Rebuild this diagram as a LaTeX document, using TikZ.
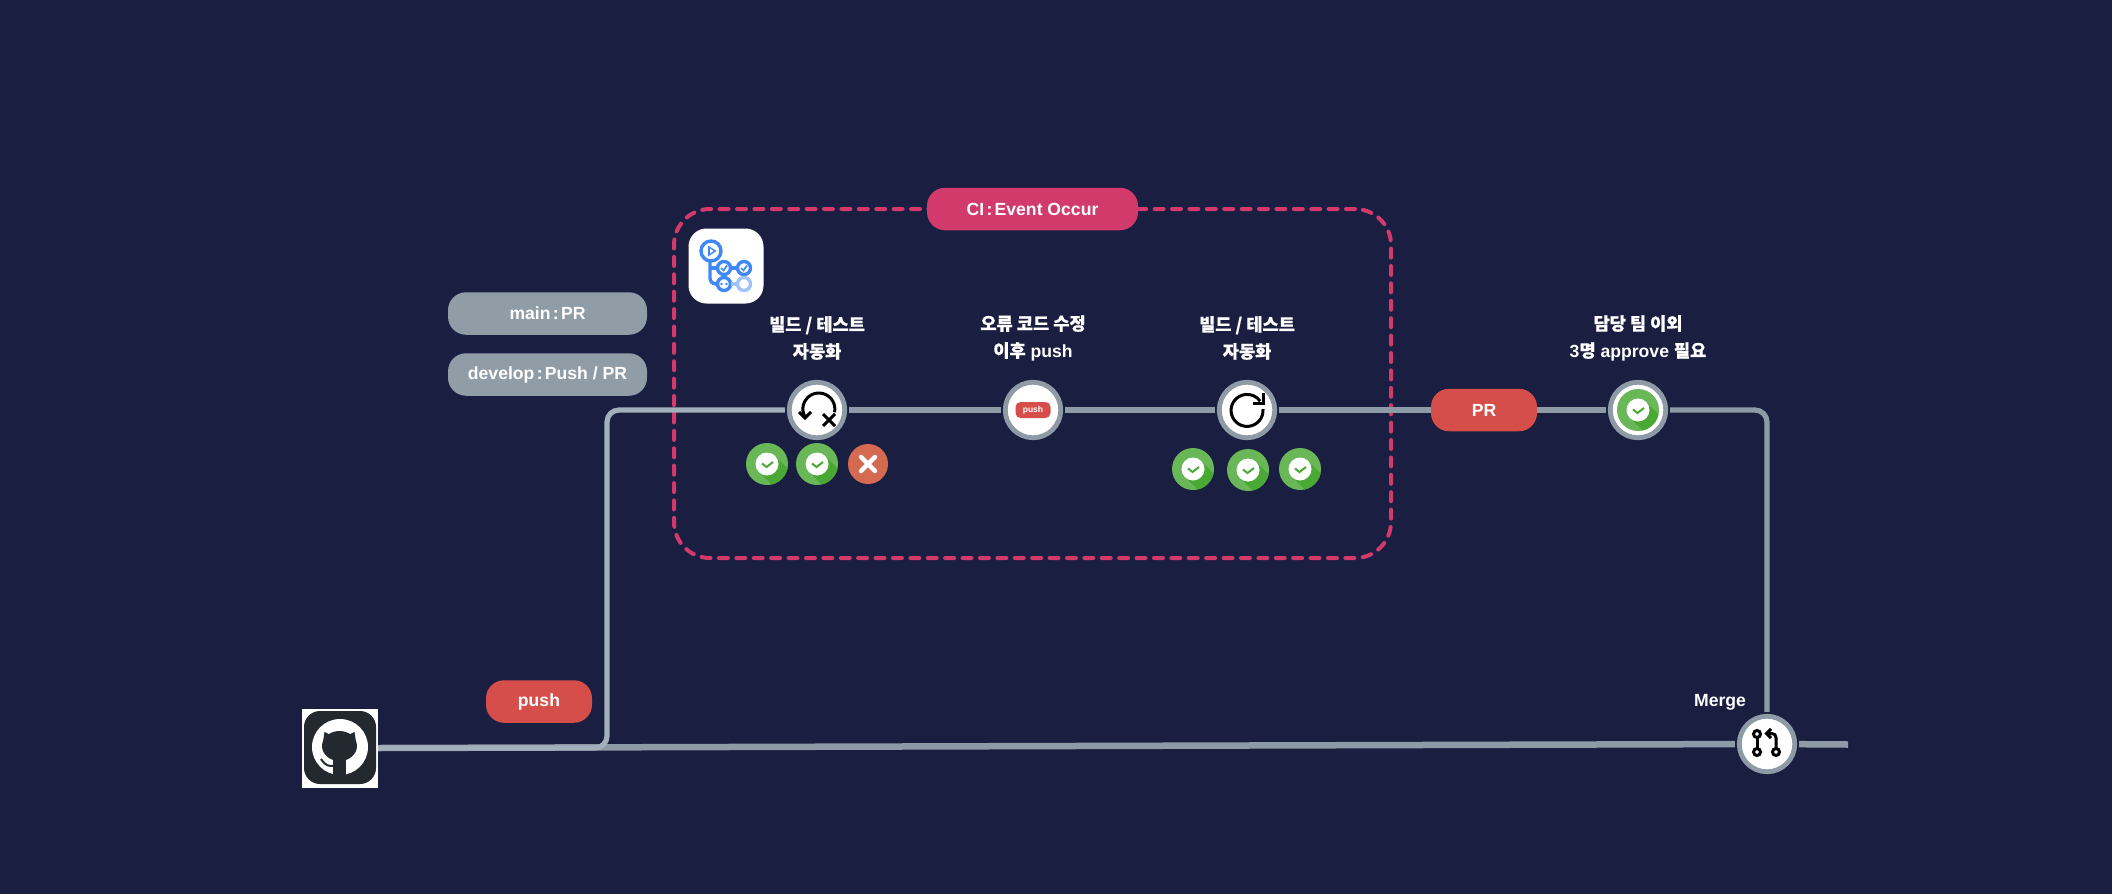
\documentclass[tikz,border=0pt]{standalone}
\usepackage{fontspec}
\setmainfont{Liberation Sans}[BoldFont={Liberation Sans Bold}]
\newfontfamily\krfont{Noto Sans CJK KR}[FakeBold=0.5]
\newcommand{\kr}[1]{{\krfont #1}}
\newcommand{\tcolon}{\hspace{0.13em}:\hspace{0.13em}}
\usetikzlibrary{positioning}
\definecolor{bgnavy}{HTML}{1A1E40}
\definecolor{cipink}{HTML}{D23A6C}
\definecolor{pillred}{HTML}{D54E4A}
\definecolor{pillgrey}{HTML}{909CA6}
\definecolor{ringgrey}{HTML}{8E9AA5}
\definecolor{branchgrey}{HTML}{A2B0BC}
\definecolor{okgreen}{HTML}{6AB757}
\definecolor{okdark}{HTML}{4AA835}
\definecolor{failred}{HTML}{D56A52}
\definecolor{flowblue}{HTML}{3F88F6}
\definecolor{flowlight}{HTML}{A0C4FA}
\definecolor{octodark}{HTML}{24292F}
\tikzset{
	pill/.style={rectangle,rounded corners=18pt,minimum width=106pt,minimum height=42.5pt,inner sep=0pt,outer sep=0pt,text=white,font=\fontsize{17.6}{22}\selectfont\bfseries},
	steplabel/.style={align=center,text=white,inner sep=0pt,font=\fontsize{17.6}{27}\selectfont\bfseries},
	stepnode/.style={circle,draw=ringgrey,line width=4.8pt,fill=white,minimum size=55.5pt,inner sep=0pt,outer sep=4.4pt},
	flowline/.style={draw=ringgrey,line width=5.2pt},
	okbadge/.style={circle,fill=okgreen,minimum size=42pt,inner sep=0pt,outer sep=0pt,path picture={
		\begin{scope}[shift={(path picture bounding box.center)}]
			\fill[okdark] (8,8) -- (38,-22) -- (22,-38) -- (-8,-8) -- cycle;
			\fill[white] (0,0) circle (11.5);
			\draw[okdark,line width=2pt] (-5,0.5) -- (-0.5,-3) -- (6,2);
		\end{scope}}},
	failbadge/.style={circle,fill=failred,minimum size=40pt,inner sep=0pt,outer sep=0pt,path picture={
		\begin{scope}[shift={(path picture bounding box.center)}]
			\draw[white,line width=4.5pt,line cap=round] (-7,7) -- (7,-7) (-7,-7) -- (7,7);
		\end{scope}}},
	iconline/.style={black,line width=3pt}
}
\begin{document}
\begin{tikzpicture}[x=1pt,y=1pt]
	\fill[bgnavy] (0,0) rectangle (2112,-894);
	\useasboundingbox (0,0) rectangle (2112,-894);

	\node (cibox) at (1032.5,-383.5) [rectangle,draw=cipink,line width=4pt,line cap=round,dash pattern=on 9pt off 8.4pt,rounded corners=36pt,minimum width=717pt,minimum height=349pt,outer sep=0pt] {};
	\node (cilabel) at (1032.5,-209) [pill,fill=cipink,minimum width=211pt] {CI\tcolon Event Occur};

	\node (mainlabel) at (547.5,-313.5) [pill,fill=pillgrey,minimum width=199pt] {\raisebox{-1pt}{main\tcolon PR}};
	\node (devlabel) at (547.5,-374.5) [pill,fill=pillgrey,minimum width=199pt] {\raisebox{-1pt}{develop\tcolon Push / PR}};
	\node (pushlabel) at (539,-701.5) [pill,fill=pillred] {push};
	\node (prlabel) at (1484,-410) [pill,fill=pillred] {PR};

	\node (failtext) at (817,-338) [steplabel] {\kr{빌드 / 테스트}\\\kr{자동화}};
	\node (fixtext) at (1033,-338) [steplabel] {\kr{오류 코드 수정}\\\kr{이후} push};
	\node (retext) at (1247,-338) [steplabel] {\kr{빌드 / 테스트}\\\kr{자동화}};
	\node (approvetext) at (1638,-338) [steplabel] {\kr{담당 팀 이외}\\3\kr{명} approve \kr{필요}};
	\node (mergetext) at (1720,-702) [steplabel] {Merge};

	% step nodes
	\node (fail) at (817,-410) [stepnode] {};
	\node (fix) at (1033,-410) [stepnode] {};
	\node (redo) at (1247,-410) [stepnode] {};
	\node (approve) at (1638,-410) [stepnode] {};
	\node (merge) at (1767,-744) [stepnode] {};
	\node (github) at (340,-748) [rectangle,fill=white,minimum width=76pt,minimum height=79pt,outer sep=0pt] {};

	\coordinate (branchturn) at (607,-748);
	\coordinate (branchtop) at (607,-410);
	\coordinate (mergeturn) at (1767,-410);
	\coordinate (trunkend) at (1848,-744.5);

	% connectors
	\draw[flowline,line width=6.5pt] (github.east) -- (merge);
	\draw[flowline,line width=6.5pt] (merge) -- (trunkend);
	\draw[flowline,draw=branchgrey,rounded corners=12pt] (github.east) -- (branchturn) -- (branchtop) -- (fail);
	\draw[flowline] (fail) -- (fix);
	\draw[flowline] (fix) -- (redo);
	\draw[flowline] (redo) -- (prlabel);
	\draw[flowline] (prlabel) -- (approve);
	\draw[flowline,rounded corners=12pt] (approve) -- (mergeturn) -- (merge);

	% results
	\node (failok1) at (767,-464) [okbadge] {};
	\node (failok2) at (817,-464) [okbadge] {};
	\node (failno) at (868,-464) [failbadge] {};
	\node (redook1) at (1193,-469) [okbadge] {};
	\node (redook2) at (1248,-470) [okbadge] {};
	\node (redook3) at (1300,-469) [okbadge] {};
	\node (approveok) at (1638,-410) [okbadge] {};

	% small icons
	\draw[iconline] (805,-417) arc[start angle=210,end angle=-12,radius=16];
	\draw[iconline] (799,-412) -- (805,-418) -- (811,-412);
	\draw[iconline] (823,-414) -- (835,-426) (823,-426) -- (835,-414);

	\node (fixpush) at (1033,-410) [rectangle,rounded corners=5pt,fill=pillred,minimum width=35pt,minimum height=16pt,inner sep=0pt,text=white,font=\fontsize{8.5}{10}\selectfont\bfseries] {push};

	\draw[iconline] (1263,-409) arc[start angle=5,end angle=-325,radius=16];
	\draw[iconline] (1263,-393) -- (1263,-403) -- (1253,-403);

	\draw[iconline,fill=white] (1757,-734) circle (3.5);
	\draw[iconline,fill=white] (1757,-752) circle (3.5);
	\draw[iconline,fill=white] (1776,-752) circle (3.5);
	\draw[iconline] (1757,-737.5) -- (1757,-748.5);
	\draw[iconline,rounded corners=4pt] (1776,-748.5) -- (1776,-733.5) -- (1768,-733.5);
	\draw[iconline] (1771,-729) -- (1766.5,-733.5) -- (1771,-738);

	% actions logo
	\node (actions) at (726,-266) [rectangle,rounded corners=18pt,fill=white,minimum width=75pt,minimum height=75pt,outer sep=0pt] {};
	\draw[flowblue,line width=3.4pt,rounded corners=6pt] (710,-261) -- (710,-284) -- (717,-284);
	\draw[flowblue,line width=3.4pt] (710,-268) -- (717,-268);
	\draw[flowblue,line width=3.4pt] (731,-268) -- (737,-268);
	\draw[flowblue,line width=3.4pt] (711,-251) circle (10);
	\fill[flowblue] (708,-245.5) -- (708,-256.5) -- (716.5,-251) -- cycle;
	\fill[white] (710,-248.5) -- (710,-253.5) -- (713.5,-251) -- cycle;
	\draw[flowblue,line width=3.4pt] (724,-268) circle (6.5);
	\draw[flowblue,line width=3.4pt] (744,-268) circle (6.5);
	\draw[flowblue,line width=3.4pt] (724,-284) circle (6.5);
	\draw[flowlight,line width=3.4pt] (744,-284) circle (6.5);
	\draw[flowlight,line width=3.4pt] (731,-284) -- (737,-284);
	\draw[flowblue,line width=1.7pt] (721,-268) -- (723.5,-270.5) -- (727,-265.5);
	\draw[flowblue,line width=1.7pt] (741,-268) -- (743.5,-270.5) -- (747,-265.5);
	\fill[flowblue] (721.5,-284) circle (1.4) (726.5,-284) circle (1.4);

	% github logo
	\fill[octodark] (304,-711) [rounded corners=16pt] rectangle (376,-784);
	\fill[white] (340,-747) circle (28);
	\fill[octodark] (333,-758) rectangle (346,-777);
	\fill[octodark] (339.5,-746) ellipse (17.5 and 15);
	\fill[octodark] (323,-742) -- (324.5,-732) -- (333,-736) -- cycle;
	\fill[octodark] (356,-742) -- (354.5,-732) -- (346,-736) -- cycle;
	\draw[octodark,line width=2pt] (321,-759) .. controls (326,-766) and (328,-766) .. (334,-766);
\end{tikzpicture}
\end{document}
